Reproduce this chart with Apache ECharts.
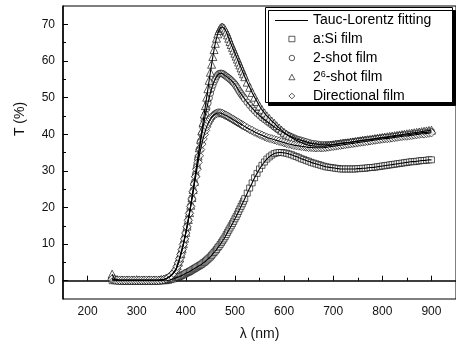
<!DOCTYPE html>
<html><head><meta charset="utf-8">
<script src="https://cdn.jsdelivr.net/npm/echarts@6/dist/echarts.min.js"></script>
<style>html,body{margin:0;padding:0;background:#fff;overflow:hidden}#c{width:456px;height:346px}</style>
</head><body><div id="c"></div>
<script>
// wavelength samples (nm)
const wavelengthA = [250,255,260,265,270,275,280,285,290,295,300,305,310,315,320,325,330,335,340,345,350,355,360,365,370,375,380];
const wavelengthB = [382.5,385,387.5,390,392.5,395,397.5,400, 402.5,405,407.5,410,412.5,415,417.5,420,
  422.5,425,427.5,430,432.5,435,437.5,440, 442.5,445,447.5,450,452.5,455,457.5,460,
  462.5,465,467.5,470,472.5,475,477.5,480, 482.5,485,487.5,490,492.5,495,497.5,500,
  502.5,505,507.5,510,512.5,515,517.5,520];
const wavelengthC = [525,530,535,540,545,550,555,560,565,570,
  575,580,585,590,595,600,605,610,615,620,
  625,630,635,640,645,650,655,660,665,670,
  675,680,685,690,695,700,705,710,715,720,
  725,730,735,740,745,750,755,760,765,770,
  775,780,785,790,795,800,805,810,815,820,
  825,830,835,840,845,850,855,860,865,870,
  875,880,885,890,895,900];

// T (%) values
const aSiFilm = [
  0,0,0,0,0,0,0,0,0,0,0,0,0,0,0,0,0,0,0,0,0,0,0,0.1,0.3,0.5,0.8,
  0.9,1.0,1.2,1.3,1.5,1.6,1.8,2.0, 2.2,2.3,2.5,2.7,2.9,3.1,3.3,3.5,
  3.7,3.9,4.1,4.3,4.5,4.8,5.0,5.3, 5.6,5.9,6.2,6.5,6.9,7.3,7.7,8.1,
  8.5,9,9.4,9.9,10.4,10.9,11.4,12, 12.6,13.2,13.8,14.4,15,15.6,16.2,16.9,
  17.5,18.2,18.9,19.6,20.3,21,21.7,22.4,
  23.9,25.3,26.7,28.1,29.3,30.5,31.5,32.4,33.2,33.8,
  34.3,34.7,34.9,35,35,34.9,34.8,34.6,34.4,34.1,
  33.9,33.6,33.3,33.1,32.8,32.6,32.3,32.1,31.9,31.7,
  31.5,31.3,31.1,31,30.9,30.8,30.7,30.6,30.5,30.5,
  30.5,30.5,30.5,30.5,30.5,30.6,30.6,30.7,30.7,30.8,
  30.9,30.9,31,31.1,31.2,31.3,31.4,31.5,31.6,31.7,
  31.8,31.9,32,32.1,32.2,32.3,32.4,32.5,32.5,32.6,
  32.7,32.8,32.8,32.9,33,33];
const shot2Film = [
  0.6,0.3, 0.1,0.1,0.1,0.1,0.1,0.1,0.1,0.1,0.1, 0.1,0.1,0.1,0.1,0.1,0.1,0.1,0.1,0.1,
  0.2,0.3,0.5,0.9,1.4,2.1,3.1,
  4.0,5.0,6.1,7.3,8.6,10,11.5,13.1, 14.8,16.6,18.5,20.5,22.6,24.7,26.9,29.2,
  31.5,33.7,35.9,38,40,41.9,43.7,45.4, 47,48.5,49.9,51.2,52.4,53.4,54.3,55,
  55.7,56.2,56.5,56.6,56.6,56.5,56.3,56, 55.8,55.5,55.3,55,54.7,54.3,54,53.6,
  53.1,52.6,52,51.5,51,50.5,50.1,49.6,
  48.7,47.9,47.1,46.4,45.7,45.1,44.5,44,43.5,43,
  42.5,42,41.5,41.1,40.7,40.3,39.9,39.6,39.3,39,
  38.7,38.5,38.3,38.1,37.9,37.7,37.5,37.4,37.3,37.2,
  37.1,37.1,37.1,37.1,37.1,37.2,37.3,37.4,37.5,37.6,
  37.7,37.7,37.8,37.9,38,38.1,38.2,38.3,38.4,38.4,
  38.5,38.6,38.7,38.8,38.9,39,39.1,39.1,39.2,39.3,
  39.4,39.5,39.6,39.7,39.8,39.8,39.9,40,40.1,40.2,
  40.3,40.4,40.5,40.5,40.6,40.7];
const shot64Film = [
  1.8,0.6,0.3, 0.2,0.2,0.2,0.2,0.2,0.2,0.2,0.2,0.2, 0.2,0.2,0.2,0.2,0.2,0.2,0.2,0.2,
  0.3,0.4,0.6,1.0,1.5,2.2,3.2,
  4.1,5.1,6.2,7.4,8.7,10.1,11.6,13.2, 14.9,16.7,18.6,20.6,22.7,24.9,27.1,29.4,
  31.7,34,36.3,38.6,40.9,43.2,45.5,47.8, 50.1,52.4,54.7,56.9,59.1,61.2,63.1,64.8,
  66.2,67.4,68.3,68.9,69.2,69.2,69,68.5, 67.9,67.1,66.2,65.3,64.5,63.7,62.9,62.1,
  61.3,60.5,59.7,58.9,58.1,57.3,56.5,55.7,
  54.2,52.8,51.4,50.1,48.9,47.7,46.7,45.8,45,44.3,
  43.6,43,42.3,41.7,41.1,40.5,40,39.5,39.1,38.7,
  38.3,38,37.7,37.4,37.2,37,36.9,36.8,36.7,36.7,
  36.7,36.7,36.8,36.9,37,37.1,37.2,37.3,37.4,37.5,
  37.6,37.7,37.8,37.9,38,38.1,38.2,38.3,38.4,38.5,
  38.6,38.7,38.8,38.9,39,39.1,39.2,39.3,39.4,39.5,
  39.6,39.7,39.8,39.9,40,40.1,40.2,40.3,40.4,40.5,
  40.6,40.7,40.8,40.9,41,41.1];
const directionalFilm = [
  0.4,0.2, 0.1,0.1,0.1,0.1,0.1,0.1,0.1,0.1,0.1, 0.1,0.1,0.1,0.1,0.1,0.1,0.1,0.1,0.1,
  0.2,0.3,0.5,0.9,1.4,2.1,3.0,
  3.9,4.9,6,7.2,8.5,9.9,11.4,13, 14.7,16.5,18.4,20.3,22.3,24.3,26.4,28.4,
  30.4,32.3,34.1,35.8,37.3,38.7,39.9,41, 42,42.8,43.5,44.1,44.6,45,45.3,45.5,
  45.7,45.8,45.8,45.8,45.7,45.6,45.4,45.2, 45.1,44.9,44.7,44.5,44.3,44.1,43.9,43.7,
  43.5,43.3,43.1,42.9,42.7,42.5,42.3,42.1,
  41.7,41.3,41,40.6,40.3,40,39.7,39.4,39.1,38.9,
  38.7,38.5,38.3,38.1,37.9,37.7,37.5,37.3,37.2,37,
  36.9,36.8,36.7,36.6,36.5,36.4,36.4,36.3,36.3,36.3,
  36.3,36.3,36.4,36.5,36.6,36.7,36.8,36.9,37,37.1,
  37.2,37.3,37.4,37.5,37.6,37.7,37.8,37.9,38,38.1,
  38.2,38.3,38.4,38.5,38.6,38.7,38.8,38.8,38.9,39,
  39.1,39.2,39.3,39.4,39.5,39.5,39.6,39.7,39.8,39.9,
  40,40.1,40.1,40.2,40.3,40.4];

const xTicks = [200,300,400,500,600,700,800,900];
const xMinorTicks = [250,350,450,550,650,750,850];
const yTicks = [0,10,20,30,40,50,60,70];
const yMinorTicks = [5,15,25,35,45,55,65];
const fitName = 'Tauc-Lorentz fitting';
const markerNames = ['a:Si film','2-shot film','2^6-shot film','Directional film'];

const wavelength = wavelengthA.concat(wavelengthB, wavelengthC);
const pairs = ys => wavelength.map((x, i) => [x, ys[i]]);
const FONT = 'Liberation Sans, Arial, sans-serif';

const markerSets = [
  {name: markerNames[0], data: aSiFilm, symbol: 'rect', size: 6},
  {name: markerNames[1], data: shot2Film, symbol: 'circle', size: 6.5},
  {name: markerNames[2], data: shot64Film, symbol: 'triangle', size: 8},
  {name: markerNames[3], data: directionalFilm, symbol: 'diamond', size: 8.5}
];

const series = [];
markerSets.forEach(m => {
  series.push({
    type: 'scatter', name: m.name, data: pairs(m.data), symbol: m.symbol, symbolSize: m.size,
    xAxisIndex: 0, yAxisIndex: 0, z: 2, silent: true,
    itemStyle: {color: '#fff', borderColor: '#000', borderWidth: 0.8}
  });
});
markerSets.forEach(m => {
  series.push({
    type: 'line', name: fitName, data: pairs(m.data), smooth: true, symbol: 'none',
    xAxisIndex: 0, yAxisIndex: 0, z: 3, silent: true,
    lineStyle: {color: '#000', width: 1.1}, itemStyle: {color: '#000'}
  });
});

const legendText = {fontSize: 14, color: '#000', fontFamily: FONT, lineHeight: 14};

const chart = echarts.init(document.getElementById('c'), null, {renderer: 'canvas'});
chart.setOption({
  animation: false,
  backgroundColor: '#fff',
  grid: {left: 63, top: 6, width: 399, height: 296, show: true, borderColor: '#000', borderWidth: 1, backgroundColor: 'transparent'},
  xAxis: [
    {type: 'value', min: 150, max: 950, position: 'bottom',
     axisLine: {show: true, lineStyle: {color: '#000', width: 1.5}},
     axisTick: {show: true, inside: true, length: 5, customValues: xTicks, lineStyle: {color: '#000', width: 1}},
     axisLabel: {show: true, customValues: xTicks, color: '#111', fontSize: 12, fontFamily: FONT, margin: 7},
     splitLine: {show: false},
     name: 'λ (nm)', nameLocation: 'middle', nameGap: 28,
     nameTextStyle: {fontSize: 14, color: '#111', fontFamily: FONT}},
    {type: 'value', min: 150, max: 950, position: 'bottom',
     axisLine: {show: false},
     axisTick: {show: true, inside: true, length: 3, customValues: xMinorTicks, lineStyle: {color: '#000', width: 1}},
     axisLabel: {show: false}, splitLine: {show: false}}
  ],
  yAxis: [
    {type: 'value', min: -5, max: 75, position: 'left',
     axisLine: {show: true, lineStyle: {color: '#000', width: 1.5}},
     axisTick: {show: true, inside: true, length: 5, customValues: yTicks, lineStyle: {color: '#000', width: 1}},
     axisLabel: {show: true, customValues: yTicks, color: '#111', fontSize: 12, fontFamily: FONT, margin: 8},
     splitLine: {show: false}},
    {type: 'value', min: -5, max: 75, position: 'left',
     axisLine: {show: false},
     axisTick: {show: true, inside: true, length: 3, customValues: yMinorTicks, lineStyle: {color: '#000', width: 1}},
     axisLabel: {show: false}, splitLine: {show: false}}
  ],
  legend: [
    {orient: 'vertical', left: 275, top: 13.5, padding: 0, selectedMode: false, z: 20,
     data: [{name: fitName, icon: 'rect', itemStyle: {color: '#000', borderWidth: 0}}],
     itemWidth: 33, itemHeight: 1, textStyle: legendText},
    {orient: 'vertical', left: 288.5, top: 32, padding: 0, selectedMode: false, z: 20,
     data: markerNames.map((n, i) => ({name: n, icon: markerSets[i].symbol})),
     itemWidth: 6, itemHeight: 5.5, itemGap: 5,
     itemStyle: {color: '#fff', borderColor: '#000', borderWidth: 0.8},
     textStyle: Object.assign({}, legendText, {padding: [0, 0, 0, 13],
       rich: {sup: {fontSize: 9, verticalAlign: 'top', lineHeight: 9, fontFamily: FONT, color: '#000'},
              t: {fontSize: 14, fontFamily: FONT, color: '#000', lineHeight: 14}}}),
     formatter: n => n === '2^6-shot film' ? '{t|2}{sup|6}{t|-shot film}' : n}
  ],
  graphic: [
    {type: 'rect', z: 10, shape: {x: 265.5, y: 7.5, width: 187, height: 95},
     style: {fill: '#fff', stroke: '#000', lineWidth: 1, shadowColor: '#000', shadowBlur: 0, shadowOffsetX: 3, shadowOffsetY: 3}},
    {type: 'text', x: 20, y: 119, rotation: Math.PI / 2,
     style: {text: 'T (%)', fontSize: 14, fontFamily: FONT, fill: '#111', align: 'center', verticalAlign: 'middle'}}
  ],
  series: series
});
</script></body></html>
